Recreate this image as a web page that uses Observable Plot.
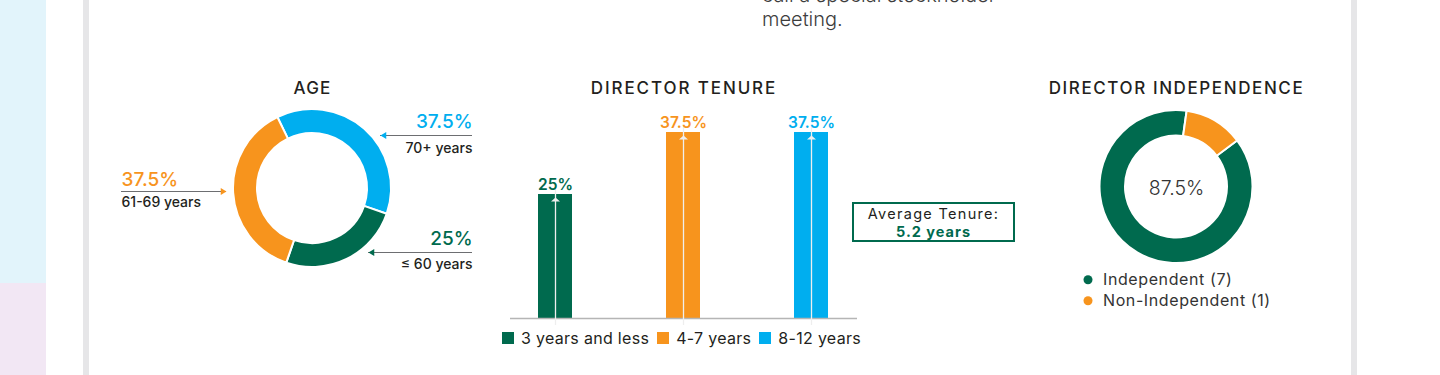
<!DOCTYPE html>
<html>
<head>
<meta charset="utf-8">
<script src="https://cdn.jsdelivr.net/npm/d3@7"></script>
<script src="https://cdn.jsdelivr.net/npm/@observablehq/plot@0.6"></script>
<style>
  html, body { margin: 0; padding: 0; background: #fff; width: 1440px; height: 375px; overflow: hidden; }
  body { font-family: Inter, "Open Sans", sans-serif; color: #231f20; }
  #page { position: relative; width: 1440px; height: 375px; overflow: hidden; }
  .abs { position: absolute; }
  .plotbox svg { overflow: visible; }
  #intro { left: 762px; top: -17px; font-size: 20px; line-height: 24px; font-weight: 300; color: #3d3d3d; white-space: nowrap; }
  #avg { left: 852px; top: 202px; width: 163px; height: 40px; box-sizing: border-box; border: 2px solid #006a4e;
         text-align: center; font-size: 14.5px; line-height: 17.6px; padding-top: 1px; color: #231f20; letter-spacing: 1.3px; white-space: nowrap; }
  #avg b { color: #006a4e; font-weight: 700; letter-spacing: 1px; }
  #tenureLegend { left: 502px; top: 329.5px; font-size: 16px; line-height: 16px; white-space: nowrap; color: #231f20; letter-spacing: 0.3px; }
  #tenureLegend .item { display: inline-block; margin-right: 8px; }
  #tenureLegend .sw { display: inline-block; width: 12px; height: 12px; margin-right: 7px; vertical-align: baseline; }
</style>
</head>
<body>
<div id="page">
  <div class="abs" style="left:0;top:0;width:46px;height:283px;background:#e2f4fb"></div>
  <div class="abs" style="left:0;top:283px;width:46px;height:92px;background:#f2e7f4"></div>
  <div class="abs" style="left:83px;top:0;width:6px;height:375px;background:#e6e6e8"></div>
  <div class="abs" style="left:1351px;top:0;width:6px;height:375px;background:#e6e6e8"></div>
  <div id="intro" class="abs">call a special stockholder<br>meeting.</div>
  <div id="age" class="abs plotbox" style="left:112px;top:0;width:400px;height:375px"></div>
  <div id="tenure" class="abs plotbox" style="left:500px;top:0;width:357px;height:375px"></div>
  <div id="indep" class="abs plotbox" style="left:1030px;top:0;width:300px;height:375px"></div>
  <div id="avg" class="abs"></div>
  <div id="tenureLegend" class="abs"></div>
</div>
<script>
// ---------- data ----------
const chartTitles = ["AGE", "DIRECTOR TENURE", "DIRECTOR INDEPENDENCE"];
const ageGroups = ["70+ years", "≤ 60 years", "61-69 years"];
const ageShares = [37.5, 25, 37.5];
const tenureGroups = ["3 years and less", "4-7 years", "8-12 years"];
const tenureShares = [25, 37.5, 37.5];
const averageTenureLabel = "Average Tenure:";
const averageTenureYears = 5.2;
const independenceGroups = ["Independent", "Non-Independent"];
const independenceCounts = [7, 1];

// ---------- style ----------
const GREEN = "#006a4e", ORANGE = "#f7941d", BLUE = "#00aeef", INK = "#231f20";
const FONT = "Inter, 'Open Sans', sans-serif";
const ageColors = [BLUE, GREEN, ORANGE];
const tenureColors = [GREEN, ORANGE, BLUE];
const independenceColors = [GREEN, ORANGE];
const pct = v => `${v}%`;

function headSymbol(dir, len, half) {
  return {draw(ctx, size) {
    const r = Math.sqrt(size / Math.PI), L = r * len, h = r * half;
    ctx.moveTo(0, 0);
    if (dir === "left") { ctx.lineTo(L, -h); ctx.lineTo(L, h); }
    else if (dir === "right") { ctx.lineTo(-L, -h); ctx.lineTo(-L, h); }
    else { ctx.lineTo(-h, L); ctx.lineTo(h, L); }
    ctx.closePath();
  }};
}

function donutMark({keys, values, colors, inner, outer, startDeg}) {
  const color = d3.scaleOrdinal(keys, colors);
  return (index, scales) => {
    const cx = scales.x(0), cy = scales.y(0);
    const a0 = startDeg * Math.PI / 180;
    const arcs = d3.pie().sort(null).value(i => values[i]).startAngle(a0).endAngle(a0 + 2 * Math.PI)(d3.range(values.length));
    const arc = d3.arc().innerRadius(inner).outerRadius(outer);
    const g = d3.create("svg:g").attr("transform", `translate(${cx},${cy})`);
    g.selectAll("path").data(arcs).join("path")
      .attr("d", arc).attr("fill", d => color(keys[d.data]))
      .attr("stroke", "#fff").attr("stroke-width", 2).attr("stroke-linejoin", "round");
    return g.node();
  };
}

function spacing(svg, map) {
  svg.querySelectorAll("text").forEach(t => {
    if (map.has(t.textContent)) t.setAttribute("letter-spacing", map.get(t.textContent));
  });
  return svg;
}

// ---------- AGE donut ----------
const ageLayout = {
  "70+ years":   {lx: 160,  pctY: -61, lineY: -53, catY: -36, tipX: 68,  anchor: "end"},
  "≤ 60 years":  {lx: 160,  pctY: 56,  lineY: 64,  catY: 80,  tipX: 56,  anchor: "end"},
  "61-69 years": {lx: -191, pctY: -3,  lineY: 3,   catY: 18,  tipX: -86, anchor: "start"}
};
const ageRows = ageGroups.map((group, i) => ({group, share: ageShares[i], ...ageLayout[group]}));
const ageRight = ageRows.filter(d => d.anchor === "end");
const ageLeft = ageRows.filter(d => d.anchor === "start");

const agePlot = Plot.plot({
  width: 400, height: 375, margin: 0,
  style: {background: "transparent", fontFamily: FONT, overflow: "visible"},
  x: {domain: [-200, 200], range: [0, 400], axis: null},
  y: {domain: [-188, 187], range: [0, 375], axis: null},
  color: {domain: ageGroups, range: ageColors},
  marks: [
    donutMark({keys: ageGroups, values: ageShares, colors: ageColors, inner: 55, outer: 79, startDeg: -26}),
    Plot.text([chartTitles[0]], {x: () => 0, y: () => -95, lineAnchor: "bottom", fill: INK, fontSize: 17, fontWeight: 500}),
    Plot.ruleY(ageRows, {y: "lineY", x1: "lx", x2: "tipX", stroke: "#6d6e71", strokeWidth: 1}),
    Plot.dot(ageRight, {x: "tipX", y: "lineY", r: 3.6, symbol: headSymbol("left", 1.6, 1), fill: "group", stroke: "none"}),
    Plot.dot(ageLeft, {x: "tipX", y: "lineY", r: 3.6, symbol: headSymbol("right", 1.6, 1), fill: "group", stroke: "none"}),
    Plot.text(ageRight, {x: "lx", y: "pctY", text: d => pct(d.share), textAnchor: "end", lineAnchor: "bottom", fill: "group", fontSize: 19, fontWeight: 500}),
    Plot.text(ageLeft, {x: "lx", y: "pctY", text: d => pct(d.share), textAnchor: "start", lineAnchor: "bottom", fill: "group", fontSize: 19, fontWeight: 500}),
    Plot.text(ageRight, {x: "lx", y: "catY", text: "group", textAnchor: "end", lineAnchor: "bottom", fill: INK, fontSize: 14, fontWeight: 500}),
    Plot.text(ageLeft, {x: "lx", y: "catY", text: "group", textAnchor: "start", lineAnchor: "bottom", fill: INK, fontSize: 14, fontWeight: 500})
  ]
});
spacing(agePlot, new Map([[chartTitles[0], "1.2"]]));
document.getElementById("age").append(agePlot);

// ---------- DIRECTOR TENURE bars ----------
const tenureRows = tenureGroups.map((group, i) => ({group, share: tenureShares[i]}));
const tenurePlot = Plot.plot({
  width: 357, height: 375, marginLeft: 10, marginRight: 0, marginTop: 0, marginBottom: 0,
  style: {background: "transparent", fontFamily: FONT, overflow: "visible"},
  x: {domain: tenureGroups, paddingInner: 0.734, paddingOuter: 0.22, axis: null},
  y: {domain: [0, 37.5], range: [318, 132], axis: null},
  color: {domain: tenureGroups, range: tenureColors},
  marks: [
    Plot.text([chartTitles[1]], {frameAnchor: "top", dy: 93.5, lineAnchor: "bottom", fill: INK, fontSize: 17, fontWeight: 500}),
    Plot.barY(tenureRows, {x: "group", y: "share", fill: "group"}),
    Plot.ruleY([0], {stroke: "#b5b5b5", strokeWidth: 1.5}),
    Plot.ruleX(tenureRows, {x: "group", y1: 0, y2: "share", insetTop: 7, insetBottom: 5, stroke: "#eeeeee", strokeWidth: 1.3}),
    Plot.dot(tenureRows, {x: "group", y: "share", dy: 3, r: 4.5, symbol: headSymbol("up", 0.9, 1), fill: "#eeeeee", stroke: "none"}),
    Plot.text(tenureRows, {x: "group", y: "share", text: d => pct(d.share), dy: -5, lineAnchor: "bottom", fill: "group", fontSize: 15.5, fontWeight: 600})
  ]
});
spacing(tenurePlot, new Map([[chartTitles[1], "1.9"]]));
document.getElementById("tenure").append(tenurePlot);

// average tenure box
const avg = document.getElementById("avg");
avg.append(averageTenureLabel, document.createElement("br"));
const avgB = document.createElement("b");
avgB.textContent = `${averageTenureYears} years`;
avg.append(avgB);

// tenure legend
const legend = document.getElementById("tenureLegend");
tenureGroups.forEach((g, i) => {
  const item = document.createElement("span");
  item.className = "item";
  const sw = document.createElement("span");
  sw.className = "sw";
  sw.style.background = tenureColors[i];
  item.append(sw, g);
  legend.append(item);
});

// ---------- DIRECTOR INDEPENDENCE donut ----------
const indepTotal = d3.sum(independenceCounts);
const indepShare = independenceCounts[0] / indepTotal * 100;
const indepRows = independenceGroups.map((group, i) => ({group, count: independenceCounts[i]}));
const indepLabels = indepRows.map(d => `${d.group} (${d.count})`);
const indepPlot = Plot.plot({
  width: 300, height: 375, margin: 0,
  style: {background: "transparent", fontFamily: FONT, overflow: "visible"},
  x: {domain: [-146, 154], range: [0, 300], axis: null},
  y: {domain: [-186.5, 188.5], range: [0, 375], axis: null},
  color: {domain: independenceGroups, range: independenceColors},
  marks: [
    donutMark({keys: independenceGroups, values: independenceCounts, colors: independenceColors, inner: 51, outer: 76.5, startDeg: 53}),
    Plot.text([chartTitles[2]], {x: () => 0, y: () => -93, lineAnchor: "bottom", fill: INK, fontSize: 17, fontWeight: 500}),
    Plot.text([pct(indepShare)], {x: () => 0, y: () => 7.5, lineAnchor: "bottom", fill: "#333", fontSize: 19.5, fontWeight: 300}),
    Plot.dot(indepRows, {x: () => -88.5, y: (d, i) => 92.8 + i * 21, r: 4.5, fill: "group", stroke: "none"}),
    Plot.text(indepRows, {x: () => -73.5, y: (d, i) => 97.5 + i * 21, text: (d, i) => indepLabels[i], textAnchor: "start", lineAnchor: "bottom", fill: "#333", fontSize: 16, fontWeight: 400})
  ]
});
spacing(indepPlot, new Map([[chartTitles[2], "1.6"], ...indepLabels.map(s => [s, "0.6"])]));
document.getElementById("indep").append(indepPlot);
</script>
</body>
</html>
